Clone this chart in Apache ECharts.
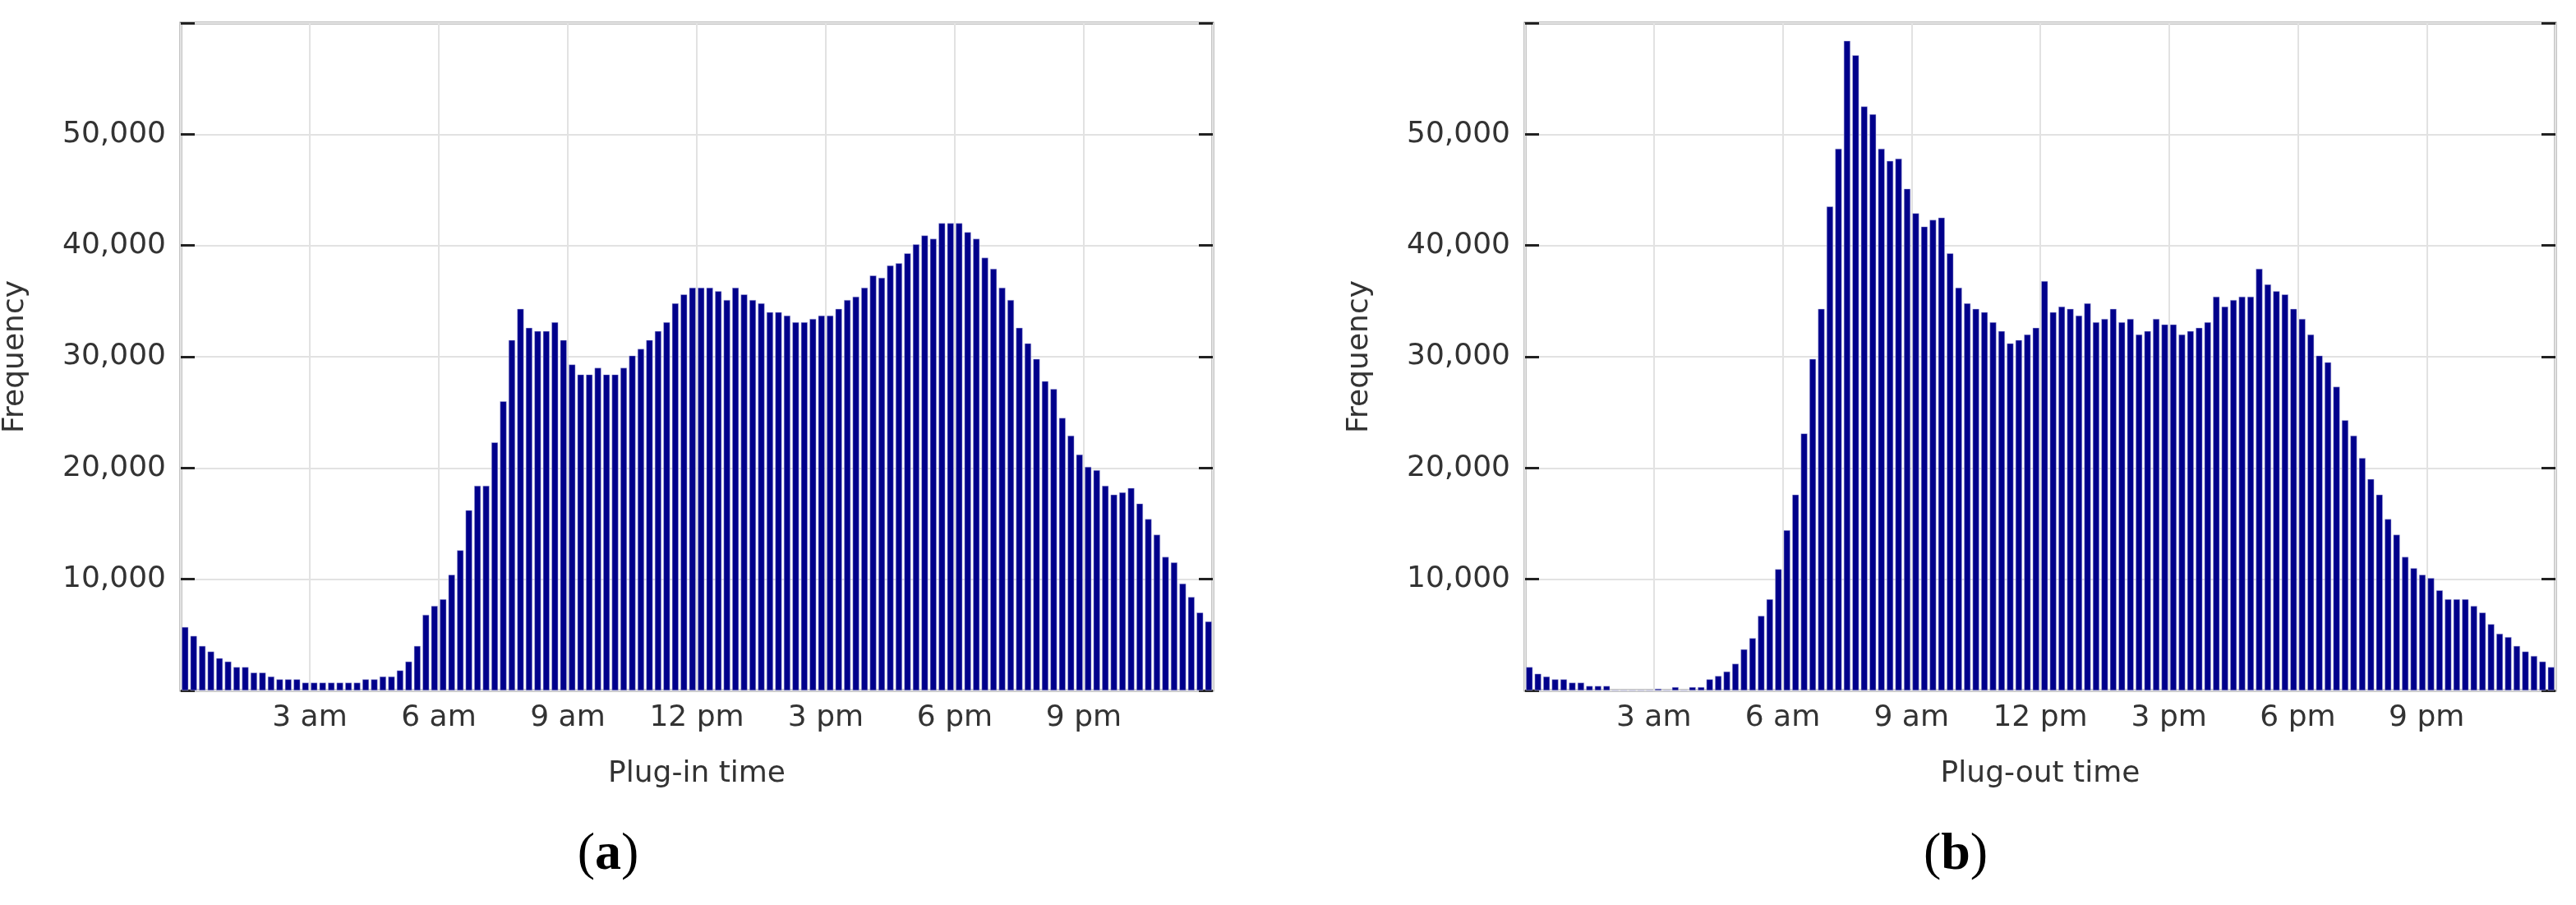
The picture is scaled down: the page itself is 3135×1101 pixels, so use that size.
<!DOCTYPE html>
<html><head><meta charset="utf-8">
<script src="https://cdn.jsdelivr.net/npm/echarts@6/dist/echarts.min.js"></script>
<style>html,body{margin:0;padding:0;background:#fff}#c{width:3135px;height:1101px}</style>
</head><body><div id="c"></div>
<script>
// 12-minute bins, 120 per day, starting at midnight
const binHours = 0.2;
const plugIn = [5.7,4.9,4.0,3.5,2.9,2.6,2.1,2.1,1.6,1.6,1.25,1.0,1.0,1.0,0.7,0.7,0.7,0.7,0.7,0.7,
  0.7,1.0,1.0,1.25,1.25,1.8,2.6,4.0,6.8,7.6,8.2,10.4,12.6,16.2,18.4,18.4,22.3,26.0,31.5,34.3,
  32.6,32.3,32.3,33.1,31.5,29.3,28.4,28.4,29.0,28.4,28.4,29.0,30.1,30.7,31.5,32.3,33.1,34.8,35.6,36.2,
  36.2,36.2,35.9,35.1,36.2,35.6,35.1,34.8,34.0,34.0,33.7,33.1,33.1,33.4,33.7,33.7,34.3,35.1,35.4,36.2,
  37.3,37.1,38.2,38.4,39.3,40.1,40.9,40.6,42.0,42.0,42.0,41.2,40.6,38.9,37.9,36.2,35.1,32.6,31.2,29.8,
  27.8,27.1,24.5,22.9,21.2,20.1,19.8,18.4,17.6,17.8,18.2,16.8,15.4,14.0,12.0,11.5,9.6,8.4,7.0,6.2];
const plugOut = [2.1,1.5,1.25,1.0,1.0,0.7,0.7,0.4,0.4,0.4,0,0,0,0,0,0.15,0,0.3,0,0.3,
  0.3,1.0,1.3,1.7,2.4,3.7,4.7,6.7,8.2,10.9,14.4,17.6,23.1,29.8,34.3,43.5,48.7,58.4,57.1,52.5,
  51.8,48.7,47.6,47.8,45.1,42.9,41.7,42.3,42.5,39.3,36.2,34.8,34.3,34.0,33.1,32.3,31.2,31.5,32.0,32.6,
  36.8,34.0,34.5,34.3,33.7,34.8,33.1,33.4,34.3,33.1,33.4,32.0,32.3,33.4,32.9,32.9,32.0,32.3,32.6,33.1,
  35.4,34.5,35.1,35.4,35.4,37.9,36.5,35.9,35.6,34.3,33.4,32.0,30.1,29.5,27.3,24.3,22.9,20.9,19.0,17.6,
  15.4,14.0,12.0,11.0,10.4,10.1,9.0,8.2,8.2,8.2,7.6,7.0,5.96,5.1,4.8,4.0,3.5,3.1,2.6,2.1];
const hourLabels = {3:'3 am',6:'6 am',9:'9 am',12:'12 pm',15:'3 pm',18:'6 pm',21:'9 pm'};
const xNames = ['Plug-in time','Plug-out time'];
const panelLabels = ['a','b'];

const toData = arr => arr.map((v,i)=>[i*binHours+binHours/2, v*1000]);
const font = 'DejaVu Sans';
const txt = '#333';
const grids = [{left:220,right:1659,top:28,bottom:261},{left:1856,right:25,top:28,bottom:261}];
const xAxis = [], yAxis = [], series = [];
grids.forEach((g,k)=>{
  g.show = true; g.borderColor = '#8a8a8a'; g.borderWidth = 3;
  xAxis.push({type:'value',gridIndex:k,min:0,max:24,interval:3,
    name:xNames[k],nameLocation:'middle',nameGap:84,
    nameTextStyle:{fontFamily:font,fontSize:36,color:txt},
    axisLine:{show:false},axisTick:{show:false},
    axisLabel:{fontFamily:font,fontSize:36,color:txt,margin:16,formatter:v=>hourLabels[v]||''},
    splitLine:{show:true,lineStyle:{color:'#e2e2e2',width:2}}});
  yAxis.push({type:'value',gridIndex:k,min:0,max:60000,interval:10000,
    name:'Frequency',nameLocation:'middle',nameGap:183,
    nameTextStyle:{fontFamily:font,fontSize:36,color:txt},
    axisLine:{show:false},
    axisTick:{show:true,inside:true,length:17,lineStyle:{color:'#222',width:3}},
    axisLabel:{fontFamily:font,fontSize:36,color:txt,margin:18,
      formatter:v=>(v===0||v===60000)?'':v.toLocaleString('en-US')},
    splitLine:{show:true,lineStyle:{color:'#e2e2e2',width:2}}});
  yAxis.push({type:'value',gridIndex:k,min:0,max:60000,interval:10000,position:'right',
    axisLine:{show:false},
    axisTick:{show:true,inside:true,length:17,lineStyle:{color:'#222',width:3}},
    axisLabel:{show:false},splitLine:{show:false}});
  series.push({type:'bar',xAxisIndex:k,yAxisIndex:k*2,barWidth:8,
    data:toData(k===0?plugIn:plugOut),
    itemStyle:{color:'#00008b',borderColor:'#b8b8e0',borderWidth:0.5},silent:true});
});
const chart = echarts.init(document.getElementById('c'));
chart.setOption({
  animation:false,backgroundColor:'#fff',
  grid:grids,xAxis,yAxis,series,
  graphic:[740,2380].map((x,k)=>({type:'text',x:x,y:1040,
    style:{text:'{p|(}{b|'+panelLabels[k]+'}{p|)}',align:'center',verticalAlign:'middle',
      rich:{p:{fontFamily:'Liberation Serif',fontSize:64,fill:'#000',fontWeight:'normal'},
            b:{fontFamily:'Liberation Serif',fontSize:64,fill:'#000',fontWeight:'bold'}}}}))
});
</script></body></html>
